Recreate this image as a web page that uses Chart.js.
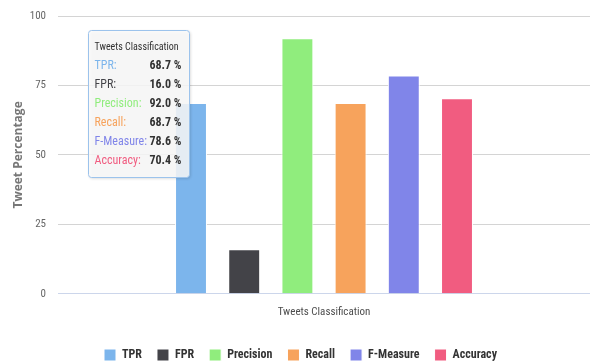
<!DOCTYPE html>
<html>
<head>
<meta charset="utf-8">
<script src="https://cdn.jsdelivr.net/npm/chart.js@4.4.1/dist/chart.umd.min.js"></script>
<style>
  html, body { margin: 0; padding: 0; background: #fff; }
  #wrap { width: 590px; height: 362px; }
</style>
</head>
<body>
<div id="wrap"><canvas id="grafico"></canvas></div>
<script>
// --- DADOS ---
const categoria = 'Tweets Classification';
const series = ['TPR', 'FPR', 'Precision', 'Recall', 'F-Measure', 'Accuracy'];
const valores = [68.7, 16.0, 92.0, 68.7, 78.6, 70.4];
const cores = ['#7cb5ec', '#434348', '#90ed7d', '#f7a35c', '#8085e9', '#f15c80'];
const ticksY = [0, 25, 50, 75, 100];

const FONTE = "'Roboto Condensed', 'DejaVu Sans Condensed', sans-serif";

// tooltip fixo, desenhado por cima do gráfico
const tooltipFixo = {
    id: 'tooltipFixo',
    afterDraw(chart) {
        const ctx = chart.ctx;
        const area = chart.chartArea;
        const x = area.left + 30.5, y = area.top + 14.5, w = 101, h = 147, r = 3;
        ctx.save();
        ctx.beginPath();
        ctx.moveTo(x + r, y);
        ctx.arcTo(x + w, y, x + w, y + h, r);
        ctx.arcTo(x + w, y + h, x, y + h, r);
        ctx.arcTo(x, y + h, x, y, r);
        ctx.arcTo(x, y, x + w, y, r);
        ctx.closePath();
        ctx.shadowColor = 'rgba(0,0,0,0.2)';
        ctx.shadowOffsetX = 1;
        ctx.shadowOffsetY = 1;
        ctx.shadowBlur = 3;
        ctx.fillStyle = 'rgba(251,251,252,0.85)';
        ctx.fill();
        ctx.shadowColor = 'transparent';
        ctx.strokeStyle = '#9cc3ec';
        ctx.lineWidth = 1;
        ctx.stroke();

        ctx.textBaseline = 'middle';
        ctx.font = '10px ' + FONTE;
        ctx.fillStyle = '#333';
        ctx.textAlign = 'left';
        ctx.fillText(categoria, x + 6, y + 17);

        series.forEach((nome, i) => {
            const ly = y + 35 + i * 19;
            ctx.font = '12px ' + FONTE;
            ctx.textAlign = 'left';
            ctx.fillStyle = cores[i];
            ctx.fillText(nome + ':', x + 6, ly);
            ctx.font = 'bold 12px ' + FONTE;
            ctx.textAlign = 'right';
            ctx.fillStyle = '#333';
            ctx.fillText(valores[i].toFixed(1) + ' %', x + w - 8, ly);
        });
        ctx.restore();
    }
};

const ctx = document.getElementById('grafico').getContext('2d');
new Chart(ctx, {
    type: 'bar',
    data: {
        labels: [categoria],
        datasets: series.map((nome, i) => ({
            label: nome,
            data: [valores[i]],
            backgroundColor: cores[i],
            borderColor: '#ffffff',
            borderWidth: 1,
            categoryPercentage: 0.6,
            barPercentage: 0.6
        }))
    },
    options: {
        responsive: true,
        maintainAspectRatio: false,
        animation: false,
        devicePixelRatio: 1,
        events: [],
        layout: { padding: { left: 11, right: 0, top: 16, bottom: -9 } },
        plugins: {
            tooltip: { enabled: false },
            legend: {
                position: 'bottom',
                labels: {
                    boxWidth: 12,
                    boxHeight: 12,
                    padding: 15,
                    color: '#333',
                    font: { family: FONTE, size: 12, weight: 'bold' }
                }
            }
        },
        scales: {
            x: {
                grid: { display: false, drawTicks: false },
                border: { display: false },
                ticks: { display: false },
                title: {
                    display: true,
                    text: categoria,
                    color: '#4d4d4d',
                    font: { family: FONTE, size: 11 },
                    padding: { top: 12, bottom: 15 }
                }
            },
            y: {
                min: 0,
                max: 100,
                afterBuildTicks: axis => { axis.ticks = ticksY.map(v => ({ value: v })); },
                afterFit: axis => {
                    axis.width = 47;
                    axis.paddingTop = 0;
                    axis.paddingBottom = 0;
                },
                border: { display: false },
                grid: {
                    drawTicks: false,
                    color: c => c.tick && c.tick.value === 0 ? '#ccd6eb' : '#d4d4d4'
                },
                ticks: {
                    padding: 12,
                    color: '#666',
                    font: { family: FONTE, size: 11 }
                },
                title: {
                    display: true,
                    text: 'Tweet Percentage',
                    color: '#777',
                    font: { family: "'Open Sans', sans-serif", size: 12, weight: 'bold' },
                    padding: { top: 0, bottom: 5 }
                }
            }
        }
    },
    plugins: [tooltipFixo]
});
</script>
</body>
</html>
